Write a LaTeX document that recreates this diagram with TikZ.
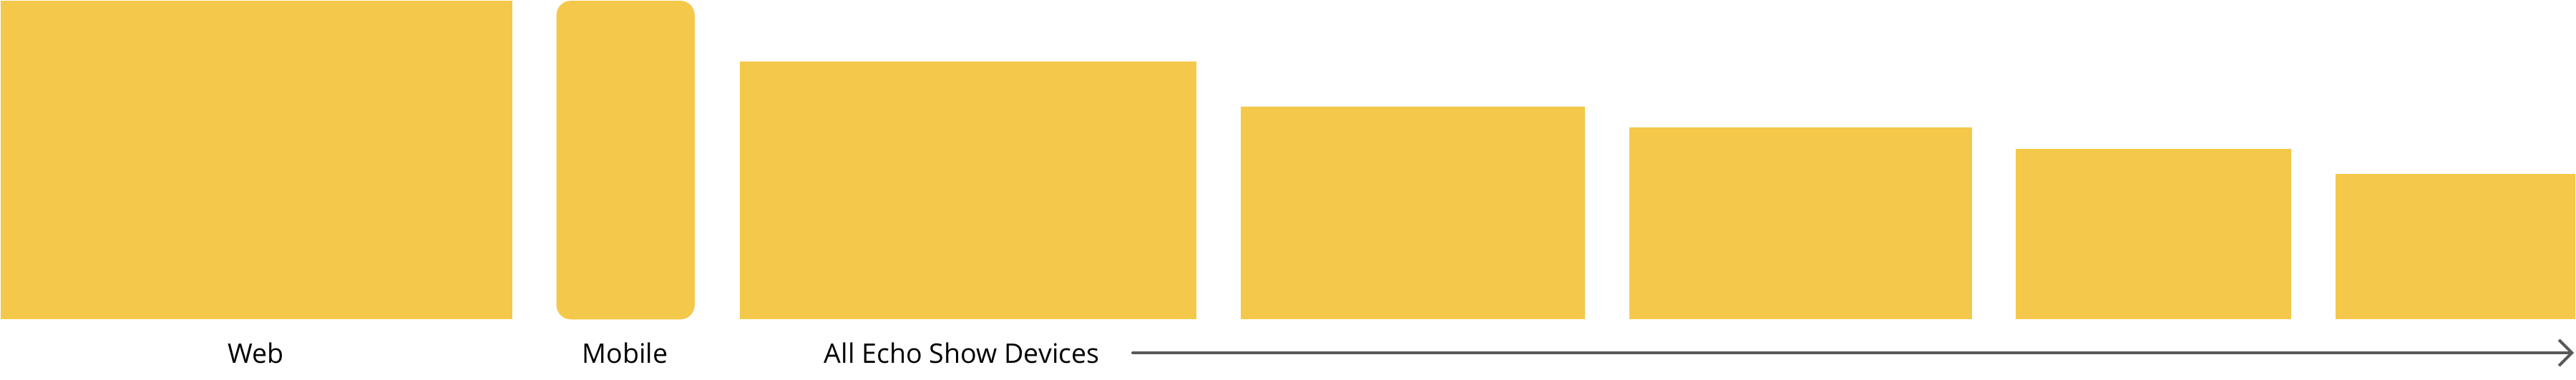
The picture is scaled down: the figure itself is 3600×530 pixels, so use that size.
\documentclass[tikz,border=0pt]{standalone}
\usepackage{fontspec}
\setmainfont{Open Sans}
\usetikzlibrary{arrows.meta}
\definecolor{screenyellow}{HTML}{F4C84A}
\definecolor{arrowgray}{HTML}{595959}
\begin{document}
\begin{tikzpicture}[x=0.01cm, y=-0.01cm,
    screen/.style={fill=screenyellow, draw=none, inner sep=0pt, anchor=south west},
    caption/.style={inner sep=0pt, font=\fontsize{10.7}{12}\selectfont, anchor=base}]
      \useasboundingbox (0,0) rectangle (3600,530);
      \node[screen, minimum width=7.15cm, minimum height=4.45cm] (web) at (0,447) {};
      \node[screen, minimum width=1.93cm, minimum height=4.45cm, rounded corners=0.2cm] (mobile) at (777,447) {};
      \node[screen, minimum width=6.38cm, minimum height=3.60cm] (echo1) at (1033,447) {};
      \node[screen, minimum width=4.81cm, minimum height=2.97cm] (echo2) at (1733,447) {};
      \node[screen, minimum width=4.79cm, minimum height=2.68cm] (echo3) at (2276,447) {};
      \node[screen, minimum width=3.85cm, minimum height=2.38cm] (echo4) at (2816,447) {};
      \node[screen, minimum width=3.35cm, minimum height=2.03cm] (echo5) at (3263,447) {};
      \node[caption] (weblabel) at (357.5,507) {Web};
      \node[caption] (mobilelabel) at (873.5,507) {Mobile};
      \node[caption, anchor=base west] (echolabel) at (1151,507) {All Echo Show Devices};
      \coordinate (arrowstart) at (1583,493);
      \coordinate (arrowend) at (3597,493);
      \begin{scope}[-{Straight Barb[length=0.18cm, width=0.36cm]}]
        \draw[arrowgray, line width=0.04cm, line cap=round] (arrowstart) to (arrowend);
      \end{scope}
    \end{tikzpicture}
\end{document}
